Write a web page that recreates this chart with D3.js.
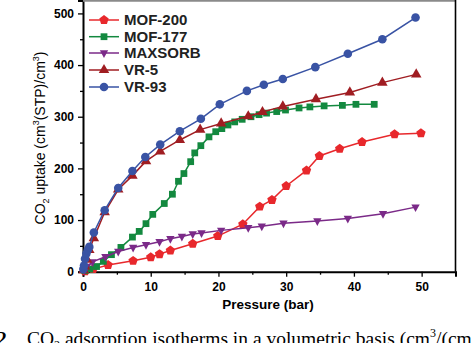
<!DOCTYPE html>
<html>
<head>
<meta charset="utf-8">
<script src="https://cdn.jsdelivr.net/npm/d3@7"></script>
<style>
  body { margin: 0; background: #fff; }
  svg { display: block; }
</style>
</head>
<body>
<svg width="474" height="343"></svg>
<script>
// series: [pressure (bar), uptake (cm3(STP)/cm3)]
const mof200 = [[0.3,1],[1.5,5],[3.7,13],[7.4,21],[10,28],[11.3,34],[12.9,41],[16.2,54],[19.9,69],[23.6,92],[26.1,126],[27.9,139],[30,166],[33,196],[34.9,224],[37.9,238],[41.2,251],[46,266],[49.9,268]];
const mof177 = [[0.3,2],[1,5],[2,10],[3,20],[4.2,33],[5.6,47],[7.3,67],[8.3,78],[9.3,93],[10.3,111],[12,132],[13.2,150],[14.1,175],[14.9,190],[15.9,213],[16.5,230],[17.4,244],[18.6,261],[19.6,271],[20.5,277],[21.4,284],[22.4,290],[23.5,295],[24.8,300],[26,304],[27.1,307],[28.6,310],[29.9,313],[31.9,317],[33.5,319],[35.6,321],[38.3,322],[40.3,324],[43,324]];
const maxsorb = [[0.2,3],[0.6,10],[1.4,19],[3.3,29],[5.2,39],[7.4,47],[9.3,52],[11.3,58],[12.9,64],[14.6,68],[16.2,73],[17.5,75],[20.4,80],[24.4,85],[26.4,88],[29.6,94],[34.6,98],[39.1,103],[44.3,112],[49.1,125]];
const vr5 = [[0.1,3],[0.3,10],[0.6,23],[0.93,42],[1.6,65],[3.2,115],[5.2,159],[7.3,186],[9.3,214],[11.4,233],[14.3,255],[17.3,275],[20.4,287],[24.4,301],[26.5,309],[29.5,320],[34.4,334],[39.4,347],[44.2,366],[49.2,382]];
const vr93 = [[0.05,5],[0.15,12],[0.3,25],[0.5,35],[0.7,42],[0.93,48],[1.6,76],[3.2,119],[5.2,162],[7.3,195],[9.2,222],[11.4,246],[14.3,272],[17.4,296],[20.2,324],[24.2,350],[26.7,362],[29.5,373],[34.3,396],[39.1,422],[44.2,450],[49.1,492]];

const seriesNames = ["MOF-200", "MOF-177", "MAXSORB", "VR-5", "VR-93"];
const seriesData = [mof200, mof177, maxsorb, vr5, vr93];
const seriesColors = ["#e8282c", "#13893f", "#7b2a88", "#a01d22", "#3953a4"];

const xTicks = [0, 10, 20, 30, 40, 50];
const xMinor = [5, 15, 25, 35, 45, 55];
const yTicks = [0, 100, 200, 300, 400, 500];
const yMinor = [50, 150, 250, 350, 450];

const svg = d3.select("svg");

const x = d3.scaleLinear().domain([0, 55]).range([83, 455.5]);
const y = d3.scaleLinear().domain([0, 525]).range([271.7, 0.5]);

// pentagon marker for MOF-200
const symbolPentagon = {
  draw(context, size) {
    const r = Math.sqrt(size / 2.38);
    for (let i = 0; i < 5; i++) {
      const a = -Math.PI / 2 + i * 2 * Math.PI / 5;
      if (i === 0) context.moveTo(r * Math.cos(a), r * Math.sin(a));
      else context.lineTo(r * Math.cos(a), r * Math.sin(a));
    }
    context.closePath();
  }
};
const triDown = {
  draw(context, size) {
    const h = Math.sqrt(size / 0.433) ;
    context.moveTo(-h / 2, -h * 0.33);
    context.lineTo(h / 2, -h * 0.33);
    context.lineTo(0, h * 0.6);
    context.closePath();
  }
};
const seriesSymbols = [
  d3.symbol().type(symbolPentagon).size(58),
  d3.symbol().type(d3.symbolSquare).size(46),
  d3.symbol().type(triDown).size(30),
  d3.symbol().type(d3.symbolTriangle).size(48),
  d3.symbol().type(d3.symbolCircle).size(58)
];

// axes
const font = "'Liberation Sans', Arial, sans-serif";

svg.append("g").attr("transform", "translate(0,271.7)")
  .call(d3.axisBottom(x).tickValues(xTicks).tickSize(5).tickPadding(6));
svg.append("g").attr("transform", "translate(0,271.7)")
  .call(d3.axisBottom(x).tickValues(xMinor).tickSize(3).tickFormat(""))
  .call(g => g.select(".domain").remove());

svg.append("g").attr("transform", "translate(83,0)")
  .call(d3.axisLeft(y).tickValues(yTicks).tickSize(5).tickPadding(4));
svg.append("g").attr("transform", "translate(83,0)")
  .call(d3.axisLeft(y).tickValues(yMinor).tickSize(3).tickFormat(""))
  .call(g => g.select(".domain").remove());

svg.selectAll(".tick line").attr("stroke", "#000").attr("stroke-width", 1.3);
svg.selectAll(".domain").attr("stroke", "#000").attr("stroke-width", 2);
svg.selectAll(".tick text")
  .attr("font-family", font).attr("font-size", 12).attr("font-weight", "bold").attr("fill", "#000");

// frame top and right
svg.append("line").attr("x1", 83).attr("x2", 455.5).attr("y1", 0.8).attr("y2", 0.8)
  .attr("stroke", "#8a8a8a").attr("stroke-width", 2);
svg.append("line").attr("x1", 455.5).attr("x2", 455.5).attr("y1", 0).attr("y2", 271.7)
  .attr("stroke", "#000").attr("stroke-width", 1.6);

// series
const line = d3.line().x(d => x(d[0])).y(d => y(d[1]));
seriesData.forEach((data, i) => {
  const g = svg.append("g");
  g.append("path").datum(data)
    .attr("d", line)
    .attr("fill", "none")
    .attr("stroke", seriesColors[i])
    .attr("stroke-width", 1.5);
  g.selectAll("path.m").data(data).enter().append("path")
    .attr("class", "m")
    .attr("d", seriesSymbols[i])
    .attr("transform", d => `translate(${x(d[0])},${y(d[1])})`)
    .attr("fill", seriesColors[i]);
});

// legend
const legendRows = [20, 36.7, 53, 70, 87];
seriesNames.forEach((name, i) => {
  const ly = legendRows[i];
  svg.append("line").attr("x1", 89).attr("x2", 119).attr("y1", ly).attr("y2", ly)
    .attr("stroke", seriesColors[i]).attr("stroke-width", 1.5);
  svg.append("path").attr("d", seriesSymbols[i])
    .attr("transform", `translate(104,${ly})`).attr("fill", seriesColors[i]);
  svg.append("text").attr("x", 124).attr("y", ly + 5.3)
    .attr("font-family", font).attr("font-size", 15).attr("font-weight", "bold")
    .attr("fill", "#222").text(name);
});

// axis titles
svg.append("text")
  .attr("x", 268).attr("y", 309)
  .attr("text-anchor", "middle")
  .attr("font-family", font).attr("font-size", 13.5).attr("font-weight", "bold")
  .text("Pressure (bar)");

const yl = svg.append("text")
  .attr("transform", "translate(45,138) rotate(-90)")
  .attr("text-anchor", "middle")
  .attr("font-family", font).attr("font-size", 14);
yl.append("tspan").text("CO");
yl.append("tspan").attr("font-size", 9).attr("dy", 4).text("2");
yl.append("tspan").attr("dy", -4).text(" uptake (cm");
yl.append("tspan").attr("font-size", 9).attr("dy", -6).text("3");
yl.append("tspan").attr("dy", 6).text("(STP)/cm");
yl.append("tspan").attr("font-size", 9).attr("dy", -6).text("3");
yl.append("tspan").attr("dy", 6).text(")");

// caption, cut off at the bottom as in the source figure
const cap = svg.append("text")
  .attr("x", -3).attr("y", 345)
  .attr("font-family", "'Liberation Serif', 'Times New Roman', serif")
  .attr("font-size", 19.5);
cap.append("tspan").attr("font-weight", "bold").text("2");
cap.append("tspan").attr("x", 27).text("CO");
cap.append("tspan").attr("font-size", 12).attr("dy", 4).text("2");
cap.append("tspan").attr("dy", -4).text(" adsorption isotherms in a volumetric basis (cm");
cap.append("tspan").attr("font-size", 12).attr("dy", -8).text("3");
cap.append("tspan").attr("dy", 8).text("/(cm");
</script>
</body>
</html>
